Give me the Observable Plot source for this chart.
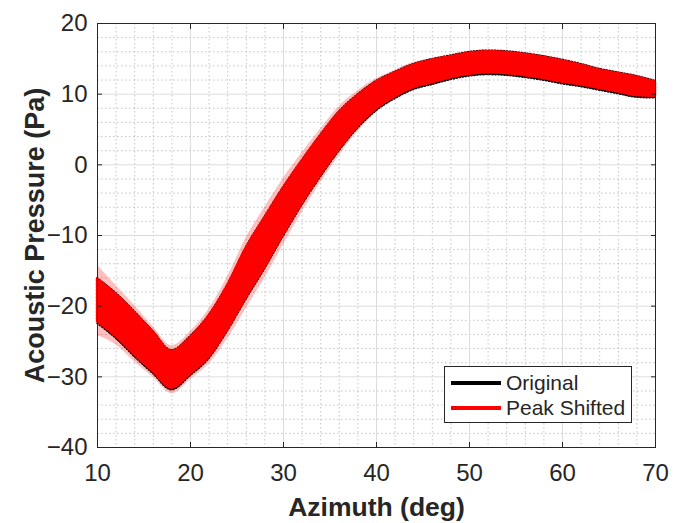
<!DOCTYPE html>
<html>
<head>
<meta charset="utf-8">
<script src="https://cdn.jsdelivr.net/npm/d3@7"></script>
<script src="https://cdn.jsdelivr.net/npm/@observablehq/plot@0.6"></script>
<style>
  html, body { margin: 0; padding: 0; background: #fff; }
  #wrap { position: relative; width: 680px; height: 523px; }
  #legend {
    position: absolute; left: 444px; top: 366px; width: 186px; height: 55px;
    border: 1px solid #262626; background: #fff;
    font-family: "Liberation Sans", Arial, Helvetica, sans-serif; font-size: 21px; color: #262626;
  }
  .row { position: absolute; left: 6px; height: 24px; display: flex; align-items: center; }
  .sw { width: 50px; height: 4px; margin-right: 5px; }
</style>
</head>
<body>
<div id="wrap">
  <div id="chart"></div>
  <div id="legend">
    <div class="row" style="top:4px"><div class="sw" style="background:#000"></div><span>Original</span></div>
    <div class="row" style="top:29px"><div class="sw" style="background:#ff0000"></div><span>Peak Shifted</span></div>
  </div>
</div>
<script>
// Azimuth samples (deg)
const azimuth = [10, 12, 14, 16, 18, 20, 22, 24, 26, 28, 30, 32, 34, 36, 38, 40, 42, 44, 46, 48, 50, 52, 54, 56, 58, 60, 62, 64, 66, 68, 70];
// Band centre of the acoustic pressure traces (Pa)
const centre = [-19.2, -21.3, -23.9, -26.5, -29.0, -27.0, -24.3, -20.2, -15.3, -11.0, -6.6, -2.5, 1.3, 4.8, 7.6, 9.8, 11.3, 12.5, 13.2, 13.8, 14.3, 14.5, 14.4, 14.1, 13.7, 13.2, 12.7, 12.1, 11.6, 11.1, 10.7];
// Half-width of the dense noise band (Pa)
const spread = [3.0, 3.0, 3.0, 2.8, 2.6, 2.6, 2.9, 3.1, 3.5, 3.5, 3.3, 3.0, 2.8, 2.6, 2.2, 1.9, 1.7, 1.6, 1.6, 1.5, 1.5, 1.5, 1.5, 1.5, 1.5, 1.5, 1.4, 1.3, 1.3, 1.3, 1.0];
// Extra reach of scattered outlier samples (Pa)
const outliers = [2.0, 1.2, 1.0, 0.8, 0.8, 0.8, 1.0, 1.3, 1.5, 1.5, 1.4, 1.2, 1.0, 0.9, 0.7, 0.5, 0.4, 0.4, 0.3, 0.3, 0.3, 0.3, 0.3, 0.3, 0.3, 0.3, 0.3, 0.3, 0.3, 0.3, 0.3];

const xMajor = [10, 20, 30, 40, 50, 60, 70];
const yMajor = [-40, -30, -20, -10, 0, 10, 20];
const xMinor = d3.range(10, 70.01, 2).filter(v => v % 10 !== 0);
const yMinor = d3.range(-40, 20.01, 2).filter(v => v % 10 !== 0);

const rows = azimuth.map((a, i) => ({
  a,
  lo: centre[i] - spread[i],
  hi: centre[i] + spread[i],
  blo: centre[i] - spread[i] - 0.3,
  bhi: centre[i] + spread[i] + 0.15,
  flo: centre[i] - spread[i] - outliers[i],
  fhi: centre[i] + spread[i] + outliers[i]
}));

const plot = Plot.plot({
  width: 680,
  height: 523,
  marginLeft: 97,
  marginRight: 25,
  marginTop: 23,
  marginBottom: 76,
  style: { fontFamily: "Liberation Sans, Arial, Helvetica, sans-serif", fontSize: "24px", color: "#262626", background: "#fff" },
  x: { domain: [10, 70] },
  y: { domain: [-40, 20] },
  marks: [
    Plot.gridX(xMinor, { stroke: "#c4c4c4", strokeOpacity: 1, strokeDasharray: "1.5,2.5" }),
    Plot.gridY(yMinor, { stroke: "#c4c4c4", strokeOpacity: 1, strokeDasharray: "1.5,2.5" }),
    Plot.gridX(xMajor, { stroke: "#dcdcdc", strokeOpacity: 1 }),
    Plot.gridY(yMajor, { stroke: "#dcdcdc", strokeOpacity: 1 }),
    // scattered outliers of the shifted trace
    Plot.areaY(rows, { x: "a", y1: "flo", y2: "fhi", fill: "#ff0000", fillOpacity: 0.25, curve: "monotone-x" }),
    // original trace band
    Plot.areaY(rows, { x: "a", y1: "blo", y2: "bhi", fill: "#000", stroke: "#000", strokeWidth: 1.5, strokeDasharray: "1,2", curve: "monotone-x" }),
    // peak shifted trace band
    Plot.areaY(rows, { x: "a", y1: "lo", y2: "hi", fill: "#ff0000", stroke: "#ff0000", strokeWidth: 2.5, strokeDasharray: "2,1.5", curve: "monotone-x" }),
    Plot.axisX(xMajor, { anchor: "bottom", tickSize: -5, tickPadding: 21, label: null, stroke: "#262626" }),
    Plot.axisX(xMajor, { anchor: "top", tickSize: -5, tickFormat: () => "", label: null, stroke: "#262626" }),
    Plot.axisY(yMajor, { anchor: "left", tickSize: -5, tickPadding: 15, label: null, stroke: "#262626" }),
    Plot.axisY(yMajor, { anchor: "right", tickSize: -5, tickFormat: () => "", label: null, stroke: "#262626" }),
    Plot.frame({ stroke: "#262626" }),
    Plot.text(["Azimuth (deg)"], { frameAnchor: "bottom", dy: 68, fontSize: 26.5, fontWeight: "bold", fill: "#262626" }),
    Plot.text(["Acoustic Pressure (Pa)"], { frameAnchor: "left", dx: -62, rotate: -90, textAnchor: "middle", fontSize: 27, fontWeight: "bold", fill: "#262626" })
  ]
});
document.getElementById("chart").appendChild(plot);
</script>
</body>
</html>
